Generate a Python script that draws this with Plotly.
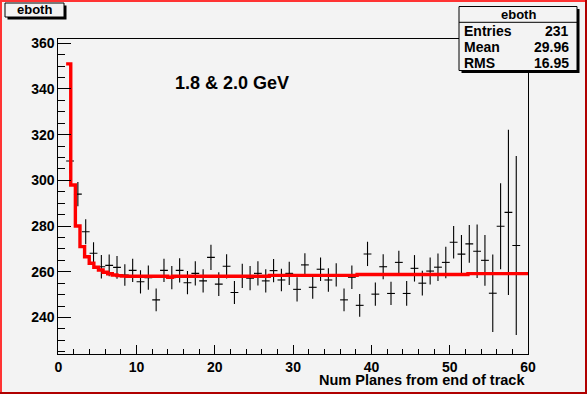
import numpy as np
import plotly.graph_objects as go

# ---------------- data ----------------
bin_centers = [1.5, 2.5, 3.5, 4.5, 5.5, 6.5, 7.5, 8.5, 9.5, 10.5,
               11.5, 12.5, 13.5, 14.5, 15.5, 16.5, 17.5, 18.5, 19.5, 20.5,
               21.5, 22.5, 23.5, 24.5, 25.5, 26.5, 27.5, 28.5, 29.5, 30.5,
               31.5, 32.5, 33.5, 34.5, 35.5, 36.5, 37.5, 38.5, 39.5, 40.5,
               41.5, 42.5, 43.5, 44.5, 45.5, 46.5, 47.5, 48.5, 49.5, 50.5,
               51.5, 52.5, 53.5, 54.5, 55.5, 56.5, 57.5, 58.5]
eboth_values = [308.5, 294.0, 277.5, 268.1, 262.2, 262.8, 261.9, 258.6, 260.6, 255.6,
                257.4, 247.7, 260.6, 257.4, 260.6, 255.2, 259.3, 256.0, 266.3, 254.6,
                262.4, 250.9, 258.2, 257.2, 259.3, 256.0, 260.5, 256.4, 259.3, 252.3,
                263.0, 253.2, 261.1, 256.4, 258.6, 247.7, 257.6, 245.3, 267.8, 250.2,
                262.2, 250.5, 264.1, 250.5, 261.5, 255.0, 260.3, 262.0, 264.1, 272.9,
                267.7, 272.2, 269.0, 265.0, 250.6, 279.9, 286.0, 271.5]
eboth_errors = [5.5, 5.3, 5.5, 4.8, 5.1, 4.8, 5.0, 4.7, 5.1, 5.1,
                5.3, 5.0, 5.1, 5.1, 5.3, 5.1, 5.3, 5.1, 5.5, 5.2,
                5.3, 5.0, 5.3, 5.3, 5.3, 5.1, 5.1, 4.9, 5.1, 5.3,
                5.1, 5.0, 5.1, 5.1, 5.1, 5.0, 5.1, 5.0, 5.3, 5.1,
                5.5, 5.1, 5.1, 5.4, 5.8, 5.4, 5.9, 6.0, 6.9, 7.1,
                8.4, 8.3, 11.7, 11.1, 17.0, 18.8, 36.2, 39.2]

# fit curve drawn as a 100-bin histogram over [1, 60]
fit_lo, fit_hi, fit_nbins = 1.0, 60.0, 100
fit_values = [351.0, 298.0, 280.0, 271.0, 266.6, 263.7, 262.0, 260.8, 259.8, 259.1,
              258.6, 258.3, 258.1, 258.0, 258.0, 258.0, 258.0, 258.0, 258.0, 258.0,
              258.0, 258.0, 257.6, 258.0, 258.0, 258.0, 258.0, 258.0, 258.0, 258.0,
              258.0, 258.0, 258.0, 258.0, 258.0, 258.0, 258.0, 258.0, 258.0, 258.0,
              258.0, 258.0, 258.0, 258.0, 258.4, 258.4, 258.4, 258.4, 258.4, 258.4,
              258.4, 258.4, 258.4, 258.4, 258.4, 258.4, 258.4, 258.4, 258.4, 258.4,
              258.4, 258.4, 258.4, 258.8, 258.8, 258.8, 258.8, 258.8, 258.8, 258.8,
              258.8, 258.8, 258.8, 258.8, 258.8, 258.8, 258.8, 258.8, 258.8, 258.8,
              258.8, 258.8, 258.8, 258.8, 258.8, 258.8, 258.8, 259.2, 259.2, 259.2,
              259.2, 259.2, 259.2, 259.2, 259.2, 259.2, 259.2, 259.2, 259.2, 259.2]

x_ticks = [0, 10, 20, 30, 40, 50, 60]
y_ticks = [240, 260, 280, 300, 320, 340, 360]
stats_labels = ["Entries", "Mean", "RMS"]
stats_values = ["231", "29.96", "16.95"]
hist_name = "eboth"
plot_label = "1.8 & 2.0 GeV"
x_title = "Num Planes from end of track"

# ---------------- layout geometry (pixels) ----------------
W, H = 587, 394
L, R, T, B = 58.3, 528.0, 39.3, 354.0
BG = "#f3f3f3"
FONT = "Liberation Sans, Arial, Helvetica, sans-serif"


def fx(p):
    return p / W


def fy(p):
    return 1 - p / H


fit_edges = np.linspace(fit_lo, fit_hi, fit_nbins + 1)

fig = go.Figure()
fig.add_trace(go.Scatter(
    x=bin_centers, y=eboth_values, mode="markers",
    marker=dict(size=1, color="black", opacity=0),
    error_y=dict(type="data", array=eboth_errors, width=0, thickness=1.1, color="black"),
    error_x=dict(type="constant", value=0.5, width=0, thickness=1.1, color="black"),
    showlegend=False, hoverinfo="skip"))
fig.add_trace(go.Scatter(
    x=list(fit_edges), y=fit_values + [fit_values[-1]], mode="lines",
    line=dict(color="#ff0000", width=3.4, shape="hv"),
    showlegend=False, hoverinfo="skip"))

axfont = dict(family=FONT, size=14, color="black", weight="bold")
fig.update_layout(
    width=W, height=H,
    margin=dict(l=0, r=0, t=0, b=0, pad=0, autoexpand=False),
    paper_bgcolor=BG, plot_bgcolor=BG,
    xaxis=dict(domain=[fx(L), fx(R)], range=[0, 60], tickvals=x_ticks,
               ticks="inside", ticklen=9, tickwidth=1, tickcolor="black",
               minor=dict(dtick=2, tick0=0, ticks="inside", ticklen=5, tickcolor="black", showgrid=False),
               showgrid=False, zeroline=False, showline=True, linecolor="black", linewidth=1,
               mirror=True, tickfont=axfont, fixedrange=True, automargin=False),
    yaxis=dict(domain=[fy(B), fy(T)], range=[224.0, 361.75], tickvals=y_ticks,
               ticks="inside", ticklen=13, tickwidth=1, tickcolor="black",
               minor=dict(dtick=5, tick0=0, ticks="inside", ticklen=7, tickcolor="black", showgrid=False),
               showgrid=False, zeroline=False, showline=True, linecolor="black", linewidth=1,
               mirror=True, tickfont=axfont, fixedrange=True, automargin=False),
)

shapes = []
annots = []


def box(x0, y0, x1, y1, sh=2.5):
    shapes.append(dict(type="rect", xref="paper", yref="paper", layer="above",
                       x0=fx(x0 + sh), x1=fx(x1 + sh), y0=fy(y1 + sh), y1=fy(y0 + sh),
                       line=dict(width=0), fillcolor="black"))
    shapes.append(dict(type="rect", xref="paper", yref="paper", layer="above",
                       x0=fx(x0), x1=fx(x1), y0=fy(y1), y1=fy(y0),
                       line=dict(width=1, color="black"), fillcolor=BG))


def text(s, x, y, size, xanchor="center"):
    annots.append(dict(text=s, xref="paper", yref="paper", x=fx(x), y=fy(y),
                       xanchor=xanchor, yanchor="middle", showarrow=False,
                       font=dict(family=FONT, size=size, color="black", weight="bold")))


# title box
box(5, 3, 64, 17)
text(hist_name, 34.5, 10, 13)

# stats box
SX0, SX1, SY0, SY1 = 459, 577, 6.5, 70.5
box(SX0, SY0, SX1, SY1)
shapes.append(dict(type="line", xref="paper", yref="paper", layer="above",
                   x0=fx(SX0), x1=fx(SX1), y0=fy(22.3), y1=fy(22.3),
                   line=dict(width=1, color="black")))
text(hist_name, (SX0 + SX1) / 2, 14.5, 13)
for i, (lab, val) in enumerate(zip(stats_labels, stats_values)):
    yy = 31 + 16 * i
    text(lab, 462, yy, 14, "left")
    text(val, 571, yy, 14, "right")

# in-plot label and x-axis title
text(plot_label, 173, 83.5, 18, "left")
text(x_title, 527, 380, 14.5, "right")

# canvas border (highlight)
shapes.append(dict(type="line", xref="paper", yref="paper", x0=0, x1=1, y0=fy(1), y1=fy(1),
                   line=dict(width=2, color="#ff3333")))
shapes.append(dict(type="line", xref="paper", yref="paper", x0=fx(1), x1=fx(1), y0=0, y1=1,
                   line=dict(width=2, color="#ff3333")))
shapes.append(dict(type="line", xref="paper", yref="paper", x0=0, x1=1, y0=fy(H - 1), y1=fy(H - 1),
                   line=dict(width=2, color="#b00000")))
shapes.append(dict(type="line", xref="paper", yref="paper", x0=fx(W - 1), x1=fx(W - 1), y0=0, y1=1,
                   line=dict(width=2, color="#b00000")))

fig.update_layout(shapes=shapes, annotations=annots)
fig.write_html("out.html", config={"displayModeBar": False},
               post_script="document.body.style.margin='0px';")
